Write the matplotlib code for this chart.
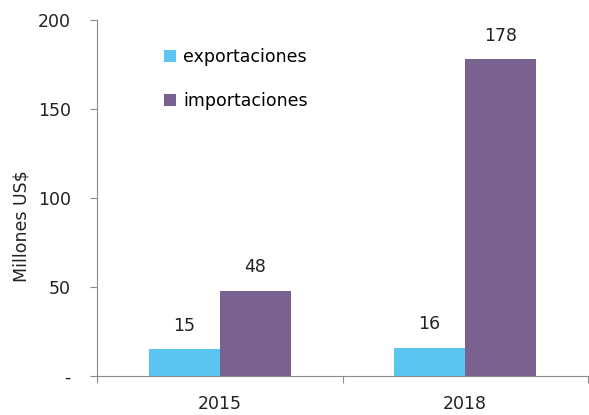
import numpy as np
from matplotlib import pyplot as plt

years = ['2015', '2018']
exportaciones = [15, 16]
importaciones = [48, 178]

c_exp = '#5BC5F2'
c_imp = '#7A6290'
grey = '#8c8c8c'
txt = '#222222'

plt.rcParams['font.family'] = ['Verdana', 'DejaVu Sans']

fig = plt.figure(figsize=(5.89, 4.15), dpi=100)
ax = fig.add_axes([0.165, 0.094, 0.833, 0.858])

x = np.arange(len(years))
w = 0.29
b1 = ax.bar(x - w / 2, exportaciones, w, color=c_exp, label='exportaciones')
b2 = ax.bar(x + w / 2, importaciones, w, color=c_imp, label='importaciones')

for bars, vals in [(b1, exportaciones), (b2, importaciones)]:
    for r, v in zip(bars, vals):
        ax.text(r.get_x() + r.get_width() / 2, v + 8, str(v),
                ha='center', va='bottom', fontsize=12.5, color=txt)

ax.set_xlim(-0.5, 1.5)
ax.set_ylim(0, 200)
ax.set_yticks([0, 50, 100, 150, 200])
ax.set_yticklabels(['-', '50', '100', '150', '200'])
ax.set_xticks([-0.5, 0.5, 1.5])
ax.set_xticklabels([])
ax.set_xticks(x, minor=True)
ax.set_xticklabels(years, minor=True)
ax.tick_params(axis='x', which='minor', length=0, pad=14, labelsize=12.5, labelcolor=txt)
ax.tick_params(axis='x', which='major', length=5, color=grey)
ax.tick_params(axis='y', length=5, color=grey, labelsize=12.5, labelcolor=txt, pad=14)

for s in ['top', 'right']:
    ax.spines[s].set_visible(False)
for s in ['left', 'bottom']:
    ax.spines[s].set_color(grey)

ax.set_ylabel('Millones US$', fontsize=12.5, color=txt)
ax.yaxis.set_label_coords(-0.135, 0.42)

ax.legend(loc='upper left', bbox_to_anchor=(0.105, 0.965), frameon=False,
          fontsize=12.5, handlelength=0.7, handleheight=0.7, handletextpad=0.4,
          labelspacing=1.5)

plt.savefig('out.png')
